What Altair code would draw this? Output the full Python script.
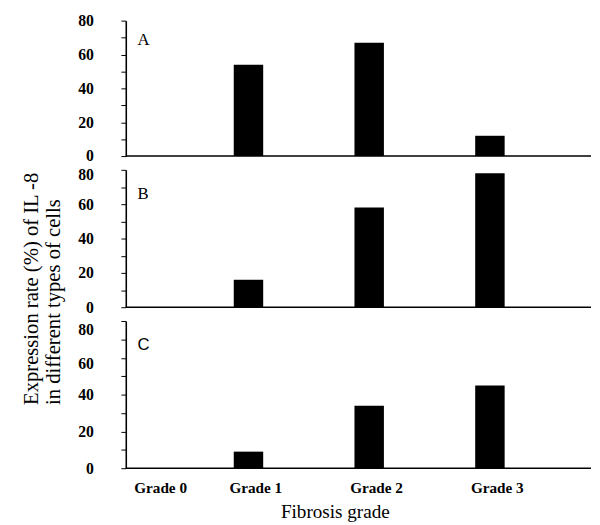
import altair as alt
import pandas as pd

grades = ["Grade 0", "Grade 1", "Grade 2", "Grade 3"]
panel_a = [0, 54, 67, 12]
panel_b = [0, 16, 58, 78]
panel_c = [0, 9, 34, 45]
panel_letters = ["A", "B", "C"]
y_tick_values = [0, 10, 20, 30, 40, 50, 60, 70, 80]
y_title = ["Expression rate (%) of IL -8", "in different  types of cells"]
x_title = "Fibrosis grade"

W = 474
SERIF = "Liberation Serif"


def y_axis(title=None, label_offset=0, **kw):
    args = dict(
        values=y_tick_values,
        labelExpr="datum.value % 20 == 0 ? datum.label : ''",
        tickSize=5, tickColor="black", tickWidth=1,
        domainColor="black", domainWidth=1.6,
        labelFont=SERIF, labelFontWeight="bold", labelFontSize=16,
        labelColor="black", labelPadding=28, grid=False,
        labelOffset=label_offset,
    )
    if title is not None:
        args.update(title=title, **kw)
    else:
        args.update(title=None)
    return alt.Axis(**args)


def panel(values, letter, height, yaxis, xaxis, letter_font, letter_y):
    df = pd.DataFrame({"grade": grades, "rate": values})
    xscale = alt.Scale(type="point", range=[2, 371], padding=0)
    bars = alt.Chart(df).mark_bar(size=30, color="black").encode(
        x=alt.X("grade:N", sort=grades, scale=xscale, axis=xaxis),
        y=alt.Y("rate:Q", scale=alt.Scale(domain=[0, 80], nice=False), axis=yaxis),
    )
    one = pd.DataFrame({"panel": [letter]})
    base_line = alt.Chart(one).mark_rule(color="black", strokeWidth=1.6).encode(
        x=alt.value(0), x2=alt.value(W), y=alt.value(height)
    )
    label = alt.Chart(one).mark_text(
        align="left", baseline="alphabetic", font=letter_font, fontSize=17, color="black"
    ).encode(x=alt.value(12), y=alt.value(letter_y), text="panel:N")
    return alt.layer(bars, base_line, label).properties(width=W, height=height)


x_axis_c = alt.Axis(
    title=x_title, titleFont=SERIF, titleFontSize=19.5, titleFontWeight="normal",
    titleColor="black", titleX=213, titleY=35, titleBaseline="top",
    labelFont=SERIF, labelFontWeight="bold", labelFontSize=15.5, labelColor="black",
    labelAngle=0, labelPadding=13, ticks=False, domain=False,
    labelOffset={"condition": {"test": "datum.value == 'Grade 0'", "value": 33}, "value": 7},
)

pa = panel(panel_a, panel_letters[0], 138, y_axis(), None, SERIF, 25)
pb = panel(
    panel_b, panel_letters[1], 140,
    y_axis(
        title=y_title, label_offset={"condition": {"test": "datum.value == 80", "value": 5}, "value": 0},
        titleFont=SERIF, titleFontSize=21, titleFontWeight="normal", titleColor="black",
        titleAngle=-90, titleX=-86, titleY=239, titleAlign="left", titleBaseline="bottom",
        titleLineHeight=22,
    ),
    None, SERIF, 30,
)
pc = panel(
    panel_c, panel_letters[2], 150,
    y_axis(label_offset={"condition": [{"test": "datum.value == 80", "value": 9},
                                         {"test": "datum.value == 60", "value": 6}], "value": 0}),
    x_axis_c, "Liberation Sans", 30,
)

chart = alt.vconcat(pa, pb, pc, spacing=14).properties(
    bounds="flush",
    padding={"left": 13, "top": 0, "right": 0, "bottom": 0},
).resolve_scale(x="independent", y="independent").configure_view(stroke=None)

chart.save("out.html", embed_options={"renderer": "svg", "actions": False})
